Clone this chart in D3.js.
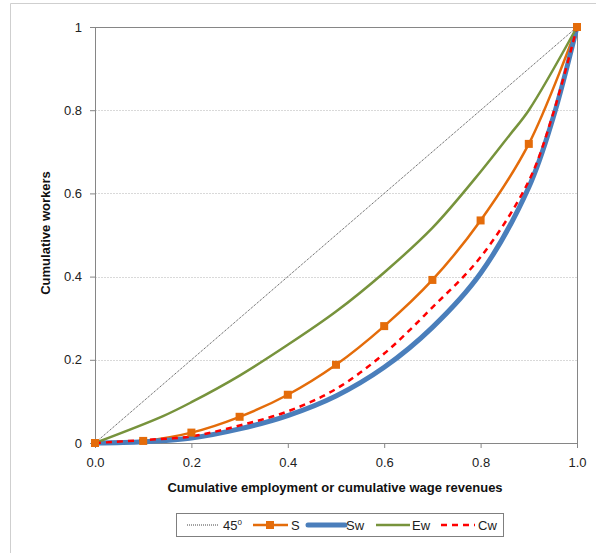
<!DOCTYPE html>
<html>
<head>
<meta charset="utf-8">
<script src="https://cdn.jsdelivr.net/npm/d3@7"></script>
<style>
    body { margin: 0; background: #fff; }
    text { font-family: "Liberation Sans", Arial, sans-serif; }
    .axis path { display: none; }
    .axis line { stroke: #868686; }
    .axis text { font-size: 13px; fill: #222; }
    .grid { stroke: #d9d9d9; stroke-dasharray: 2,1; }
    .axisTitle { font-size: 13px; font-weight: bold; fill: #111; }
</style>
</head>
<body>
<script>
//wrap everything in an immediately invoked function so nothing is global
(function () {

    //x values where each curve was read
    var xShares = [0, 0.1, 0.2, 0.3, 0.4, 0.5, 0.6, 0.7, 0.8, 0.9, 1];
    var xEw = [0, 0.14, 0.2, 0.3, 0.4, 0.5, 0.6, 0.7, 0.8, 0.86, 0.9, 1];
    var xSwCw = [0, 0.1, 0.2, 0.3, 0.4, 0.5, 0.6, 0.7, 0.8, 0.9, 0.95, 1];

    //series values (cumulative workers)
    var line45 = [0, 1];
    var sVals = [0, 0.005, 0.025, 0.063, 0.116, 0.188, 0.281, 0.392, 0.535, 0.719, 1];
    var swVals = [0, 0.003, 0.012, 0.034, 0.066, 0.113, 0.182, 0.278, 0.408, 0.615, 0.78, 1];
    var ewVals = [0, 0.064, 0.098, 0.162, 0.236, 0.316, 0.41, 0.517, 0.652, 0.74, 0.8, 1];
    var cwVals = [0, 0.007, 0.016, 0.042, 0.076, 0.13, 0.215, 0.326, 0.447, 0.63, 0.79, 1];

    //tick labels
    var xTicks = [0, 0.2, 0.4, 0.6, 0.8, 1];
    var xTickLabels = ["0.0", "0.2", "0.4", "0.6", "0.8", "1.0"];
    var yTicks = [0, 0.2, 0.4, 0.6, 0.8, 1];
    var yTickLabels = ["0", "0.2", "0.4", "0.6", "0.8", "1"];

    var legendLabels = ["45", "S", "Sw", "Ew", "Cw"];

    window.onload = setChart();

    function zip(xs, ys) {
        return xs.map(function (x, i) { return [x, ys[i]]; });
    }

    function setChart() {
        var width = 596,
            height = 553;

        var svg = d3.select("body")
            .append("svg")
            .attr("width", width)
            .attr("height", height);

        //outer chart border (only top and left are in view)
        svg.append("path")
            .attr("d", "M10.5," + height + "V3.5H" + width)
            .attr("fill", "none")
            .attr("stroke", "#cfcfcf");

        var x = d3.scaleLinear().domain([0, 1]).range([95, 577]);
        var y = d3.scaleLinear().domain([0, 1]).range([443, 27]);

        //horizontal gridlines
        svg.selectAll(".grid")
            .data(yTicks.slice(1, -1))
            .enter()
            .append("line")
            .attr("class", "grid")
            .attr("x1", x(0))
            .attr("x2", x(1))
            .attr("y1", function (d) { return Math.round(y(d)) + 0.5; })
            .attr("y2", function (d) { return Math.round(y(d)) + 0.5; });

        //axes
        var yAxis = d3.axisLeft(y)
            .tickValues(yTicks)
            .tickSize(5)
            .tickPadding(8)
            .tickFormat(function (d, i) { return yTickLabels[i]; });
        svg.append("g")
            .attr("class", "axis")
            .attr("transform", "translate(" + x(0) + ",0)")
            .call(yAxis);

        var xAxis = d3.axisBottom(x)
            .tickValues(xTicks)
            .tickSize(5)
            .tickPadding(10)
            .tickFormat(function (d, i) { return xTickLabels[i]; });
        svg.append("g")
            .attr("class", "axis")
            .attr("transform", "translate(0," + y(0) + ")")
            .call(xAxis);

        //plot frame
        svg.append("rect")
            .attr("x", x(0) + 0.5)
            .attr("y", y(1) + 0.5)
            .attr("width", x(1) - x(0))
            .attr("height", y(0) - y(1))
            .attr("fill", "none")
            .attr("stroke", "#868686");

        var line = d3.line()
            .x(function (d) { return x(d[0]); })
            .y(function (d) { return y(d[1]); })
            .curve(d3.curveCatmullRom.alpha(0.5));

        //45 degree line
        svg.append("path")
            .datum(zip(line45, line45))
            .attr("d", d3.line().x(function (d) { return x(d[0]); }).y(function (d) { return y(d[1]); }))
            .attr("fill", "none")
            .attr("stroke", "#444")
            .attr("stroke-width", 1)
            .attr("stroke-dasharray", "1,1");

        //S
        var sData = zip(xShares, sVals);
        svg.append("path")
            .datum(sData)
            .attr("d", line)
            .attr("fill", "none")
            .attr("stroke", "#E46C0A")
            .attr("stroke-width", 2.5);

        //Sw
        svg.append("path")
            .datum(zip(xSwCw, swVals))
            .attr("d", line)
            .attr("fill", "none")
            .attr("stroke", "#4A7EBB")
            .attr("stroke-width", 5);

        //Ew
        svg.append("path")
            .datum(zip(xEw, ewVals))
            .attr("d", line)
            .attr("fill", "none")
            .attr("stroke", "#77933C")
            .attr("stroke-width", 2.5);

        //Cw
        svg.append("path")
            .datum(zip(xSwCw, cwVals))
            .attr("d", line)
            .attr("fill", "none")
            .attr("stroke", "#FF0000")
            .attr("stroke-width", 2.5)
            .attr("stroke-dasharray", "6,5");

        //S markers
        svg.selectAll(".sMark")
            .data(sData)
            .enter()
            .append("rect")
            .attr("class", "sMark")
            .attr("x", function (d) { return x(d[0]) - 4; })
            .attr("y", function (d) { return y(d[1]) - 4; })
            .attr("width", 8)
            .attr("height", 8)
            .attr("fill", "#E46C0A");

        //axis titles
        svg.append("text")
            .attr("class", "axisTitle")
            .attr("x", 335)
            .attr("y", 492)
            .attr("text-anchor", "middle")
            .text("Cumulative employment or cumulative wage revenues");

        svg.append("text")
            .attr("class", "axisTitle")
            .attr("transform", "translate(50,233) rotate(-90)")
            .attr("text-anchor", "middle")
            .text("Cumulative workers");

        setLegend(svg);
    }

    function setLegend(svg) {
        var legend = svg.append("g").attr("class", "legend");
        var cy = 525;

        legend.append("rect")
            .attr("x", 176.5)
            .attr("y", 513.5)
            .attr("width", 327)
            .attr("height", 23)
            .attr("fill", "#fff")
            .attr("stroke", "#7f7f7f");

        //line samples: [x1, x2, color, width, dash]
        var samples = [
            [187, 218, "#444", 1, "1,1"],
            [253, 288, "#E46C0A", 2.5, null],
            [308, 345, "#4A7EBB", 5, null],
            [376, 410, "#77933C", 2.5, null],
            [441, 475, "#FF0000", 2.5, "6,5"]
        ];
        var textX = [223, 291, 346, 412, 478];

        samples.forEach(function (s, i) {
            legend.append("line")
                .attr("x1", s[0])
                .attr("x2", s[1])
                .attr("y1", cy)
                .attr("y2", cy)
                .attr("stroke", s[2])
                .attr("stroke-width", s[3])
                .attr("stroke-linecap", s[3] === 5 ? "round" : "butt")
                .attr("stroke-dasharray", s[4]);

            var t = legend.append("text")
                .attr("x", textX[i])
                .attr("y", cy + 5)
                .attr("font-size", "13px")
                .attr("fill", "#222")
                .text(legendLabels[i]);
            if (i === 0) {
                t.append("tspan")
                    .attr("dy", -5)
                    .attr("font-size", "8px")
                    .text("0");
            }
        });

        //S marker in legend
        legend.append("rect")
            .attr("x", 266)
            .attr("y", cy - 4)
            .attr("width", 8)
            .attr("height", 8)
            .attr("fill", "#E46C0A");
    }

})();
</script>
</body>
</html>
